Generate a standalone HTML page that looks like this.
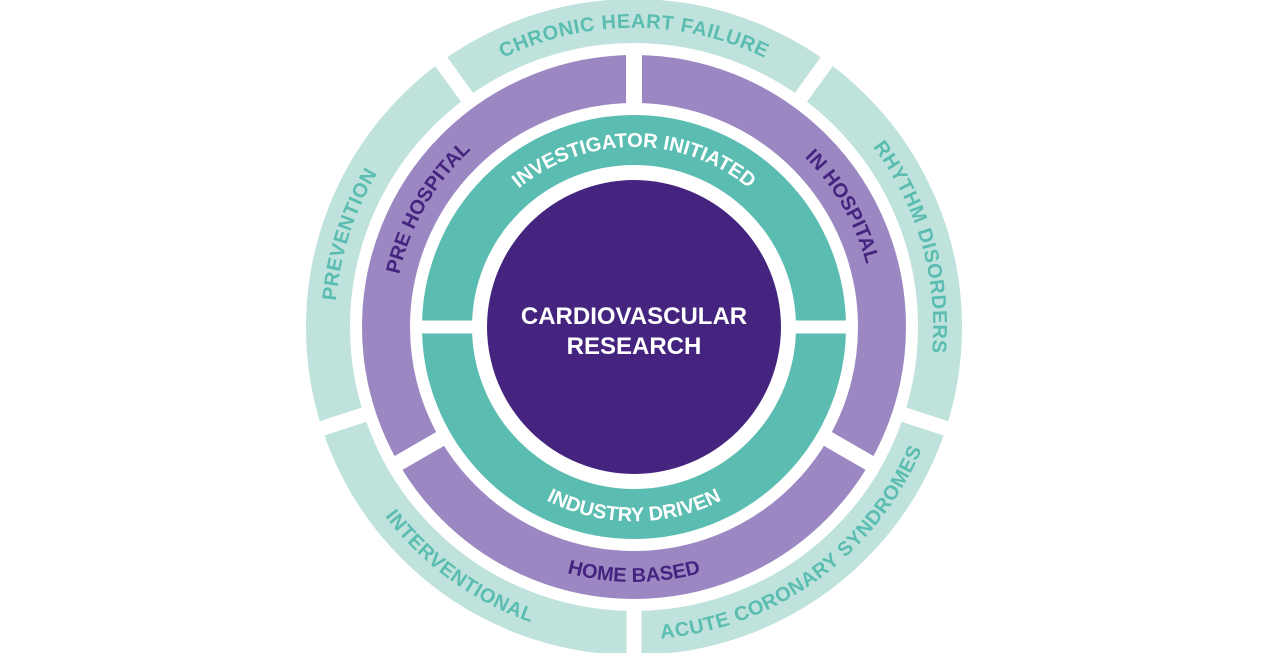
<!DOCTYPE html>
<html><head><meta charset="utf-8"><style>
html,body{margin:0;padding:0;background:#fff;width:1280px;height:653px;overflow:hidden}
svg{display:block}
text{font-family:"Liberation Sans",sans-serif;font-weight:bold}
</style></head><body>
<svg width="1280" height="653" viewBox="0 0 1280 653" xmlns="http://www.w3.org/2000/svg">
<defs>
<path id="t299" d="M339.5,275.1 A299,299 0 0 1 928.5,275.1"/>
<path id="t241" d="M396.7,285.2 A241,241 0 0 1 871.3,285.2"/>
<path id="t180" d="M456.7,295.8 A180,180 0 0 1 811.3,295.8"/>
<path id="b313" d="M325.8,381.3 A313,313 0 0 0 942.2,381.3"/>
<path id="b255" d="M382.9,371.3 A255,255 0 0 0 885.1,371.3"/>
<path id="b194" d="M442.9,360.7 A194,194 0 0 0 825.1,360.7"/>
</defs>
<circle cx="634" cy="327" r="306" fill="none" stroke="#bfe3dc" stroke-width="44"/>
<circle cx="634" cy="327" r="248" fill="none" stroke="#9b88c2" stroke-width="48"/>
<circle cx="634" cy="327" r="187" fill="none" stroke="#5bbdb1" stroke-width="50"/>
<g stroke="#fff" stroke-width="15">
<line x1="914" y1="327" x2="970" y2="327" transform="rotate(18 634 327)"/>
<line x1="914" y1="327" x2="970" y2="327" transform="rotate(90 634 327)"/>
<line x1="914" y1="327" x2="970" y2="327" transform="rotate(162 634 327)"/>
<line x1="914" y1="327" x2="970" y2="327" transform="rotate(234 634 327)"/>
<line x1="914" y1="327" x2="970" y2="327" transform="rotate(306 634 327)"/>
</g>
<g stroke="#fff" stroke-width="16">
<line x1="852" y1="327" x2="910" y2="327" transform="rotate(30 634 327)"/>
<line x1="852" y1="327" x2="910" y2="327" transform="rotate(150 634 327)"/>
<line x1="852" y1="327" x2="910" y2="327" transform="rotate(270 634 327)"/>
</g>
<g stroke="#fff" stroke-width="13">
<line x1="770" y1="327" x2="850" y2="327"/>
<line x1="418" y1="327" x2="498" y2="327"/>
</g>
<circle cx="634" cy="327" r="147" fill="#45247f"/>
<g font-size="20" fill="#5bbdb1" letter-spacing="0.6">
<text><textPath href="#t299" startOffset="50%" text-anchor="middle">CHRONIC HEART FAILURE</textPath></text>
<g transform="rotate(74 634 327)"><text><textPath href="#t299" startOffset="50%" text-anchor="middle">RHYTHM DISORDERS</textPath></text></g>
<g transform="rotate(-72 634 327)"><text><textPath href="#t299" startOffset="50%" text-anchor="middle">PREVENTION</textPath></text></g>
<g transform="rotate(36 634 327)"><text><textPath href="#b313" startOffset="50%" text-anchor="middle">INTERVENTIONAL</textPath></text></g>
<g transform="rotate(-36 634 327)"><text><textPath href="#b313" startOffset="50%" text-anchor="middle">ACUTE CORONARY SYNDROMES</textPath></text></g>
</g>
<g font-size="20" fill="#45247f">
<g transform="rotate(60 634 327)"><text><textPath href="#t241" startOffset="50%" text-anchor="middle">IN HOSPITAL</textPath></text></g>
<g transform="rotate(-60 634 327)"><text><textPath href="#t241" startOffset="50%" text-anchor="middle">PRE HOSPITAL</textPath></text></g>
<text><textPath href="#b255" startOffset="50%" text-anchor="middle">HOME BASED</textPath></text>
</g>
<g font-size="20" fill="#fff">
<text><textPath href="#t180" startOffset="50%" text-anchor="middle">INVESTIGATOR INITIATED</textPath></text>
<text><textPath href="#b194" startOffset="50%" text-anchor="middle">INDUSTRY DRIVEN</textPath></text>
</g>
<g font-size="24" fill="#fff" text-anchor="middle">
<text x="634" y="324">CARDIOVASCULAR</text>
<text x="634" y="354">RESEARCH</text>
</g>
</svg>
</body></html>
